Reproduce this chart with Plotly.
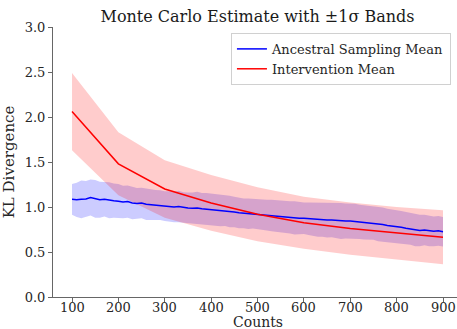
import plotly.graph_objects as go

# Intervention (coarse grid)
int_counts = [100, 200, 300, 400, 500, 600, 700, 800, 900]
int_mean = [2.06, 1.48, 1.20, 1.045, 0.92, 0.825, 0.76, 0.71, 0.665]
int_std = [0.43, 0.35, 0.32, 0.31, 0.30, 0.29, 0.29, 0.29, 0.30]

# Ancestral sampling (fine grid, step 10)
anc_counts = list(range(100, 901, 10))
anc_mean = [1.085, 1.08, 1.085, 1.09, 1.105, 1.09, 1.08, 1.085, 1.075, 1.07,
            1.065, 1.055, 1.06, 1.045, 1.04, 1.045, 1.03, 1.025, 1.02, 1.02,
            1.01, 1.005, 1.0, 1.005, 0.995, 0.99, 0.985, 0.99, 0.98, 0.975,
            0.97, 0.965, 0.96, 0.96, 0.95, 0.945, 0.935, 0.93, 0.925, 0.925,
            0.92, 0.915, 0.91, 0.905, 0.9, 0.895, 0.89, 0.885, 0.88, 0.875,
            0.875, 0.87, 0.865, 0.86, 0.86, 0.855, 0.855, 0.85, 0.845, 0.845,
            0.845, 0.84, 0.835, 0.83, 0.825, 0.82, 0.81, 0.805, 0.795, 0.79,
            0.78, 0.775, 0.765, 0.755, 0.745, 0.74, 0.745, 0.735, 0.73, 0.735,
            0.725]
anc_std = [0.17, 0.19, 0.21, 0.20, 0.20, 0.21, 0.20, 0.19, 0.20, 0.19,
           0.19, 0.18, 0.18, 0.18, 0.17, 0.17, 0.175, 0.17, 0.17, 0.165,
           0.165, 0.17, 0.17, 0.175, 0.17, 0.17, 0.175, 0.18, 0.175, 0.18,
           0.18, 0.175, 0.175, 0.17, 0.175, 0.17, 0.17, 0.165, 0.17, 0.165,
           0.165, 0.17, 0.17, 0.175, 0.175, 0.18, 0.18, 0.18, 0.185, 0.18,
           0.175, 0.18, 0.185, 0.19, 0.19, 0.195, 0.19, 0.195, 0.20, 0.195,
           0.195, 0.195, 0.19, 0.19, 0.19, 0.185, 0.19, 0.19, 0.185, 0.185,
           0.185, 0.18, 0.18, 0.175, 0.18, 0.175, 0.17, 0.17, 0.165, 0.165,
           0.165]

y_ticks = [0.0, 0.5, 1.0, 1.5, 2.0, 2.5, 3.0]
x_ticks = [100, 200, 300, 400, 500, 600, 700, 800, 900]
x_tick_labels = ["100", "200", "300", "400", "500", "600", "700", "800", "900"]

FONT = "DejaVu Serif"
TXT = "#262626"

anc_lo = [m - s for m, s in zip(anc_mean, anc_std)]
anc_hi = [m + s for m, s in zip(anc_mean, anc_std)]
int_lo = [m - s for m, s in zip(int_mean, int_std)]
int_hi = [m + s for m, s in zip(int_mean, int_std)]

fig = go.Figure()
# blue band
fig.add_trace(go.Scatter(x=anc_counts, y=anc_lo, mode="lines", line=dict(width=0),
                         showlegend=False, hoverinfo="skip"))
fig.add_trace(go.Scatter(x=anc_counts, y=anc_hi, mode="lines", line=dict(width=0),
                         fill="tonexty", fillcolor="rgba(0,0,255,0.2)",
                         showlegend=False, hoverinfo="skip"))
# red band
fig.add_trace(go.Scatter(x=int_counts, y=int_lo, mode="lines", line=dict(width=0),
                         showlegend=False, hoverinfo="skip"))
fig.add_trace(go.Scatter(x=int_counts, y=int_hi, mode="lines", line=dict(width=0),
                         fill="tonexty", fillcolor="rgba(255,0,0,0.2)",
                         showlegend=False, hoverinfo="skip"))
# lines
fig.add_trace(go.Scatter(x=anc_counts, y=anc_mean, mode="lines",
                         line=dict(color="blue", width=1.5),
                         name="Ancestral Sampling Mean"))
fig.add_trace(go.Scatter(x=int_counts, y=int_mean, mode="lines",
                         line=dict(color="red", width=1.5),
                         name="Intervention Mean"))

annotations = [dict(text=lab, xref="x", yref="paper", x=v, y=0, xanchor="center",
                    yanchor="middle", yshift=-10, showarrow=False, borderpad=0,
                    font=dict(family=FONT, size=13, color=TXT))
               for v, lab in zip(x_ticks, x_tick_labels)]
annotations.append(dict(text="Counts", xref="paper", yref="paper", x=0.507, y=0,
                        xanchor="center", yanchor="middle", yshift=-25, showarrow=False,
                        borderpad=0, font=dict(family=FONT, size=14, color=TXT)))

fig.update_layout(
    width=457, height=329,
    margin=dict(l=53, r=0, t=27, b=32),
    plot_bgcolor="white", paper_bgcolor="white",
    font=dict(family=FONT, color=TXT, size=13),
    title=dict(text="Monte Carlo Estimate with ±1σ Bands", x=0.5635, xanchor="center",
               y=0.95, yanchor="middle", font=dict(family=FONT, size=16, color="#1a1a1a")),
    legend=dict(x=0.985, y=0.978, xanchor="right", yanchor="top",
                traceorder="normal",
                bgcolor="rgba(255,255,255,0.8)", bordercolor="#d0d0d0", borderwidth=1,
                font=dict(family=FONT, size=13, color=TXT),
                itemwidth=30, tracegroupgap=0),
    showlegend=True,
    annotations=annotations,
)
fig.update_xaxes(range=[59, 930.2], tickvals=x_ticks, ticks="outside", ticklen=4,
                 tickcolor="#666", showline=True, linecolor="#666", linewidth=1,
                 showgrid=False, zeroline=False, showticklabels=False)
fig.update_yaxes(range=[0, 3.0], tickvals=y_ticks, tickformat=".1f", ticks="outside",
                 ticklen=4, tickcolor="#666", showline=True, linecolor="#666", linewidth=1,
                 showgrid=False, zeroline=False,
                 title=dict(text="KL Divergence", font=dict(family=FONT, size=15), standoff=6),
                 tickfont=dict(family=FONT, size=13))

fig.write_html("out.html")
